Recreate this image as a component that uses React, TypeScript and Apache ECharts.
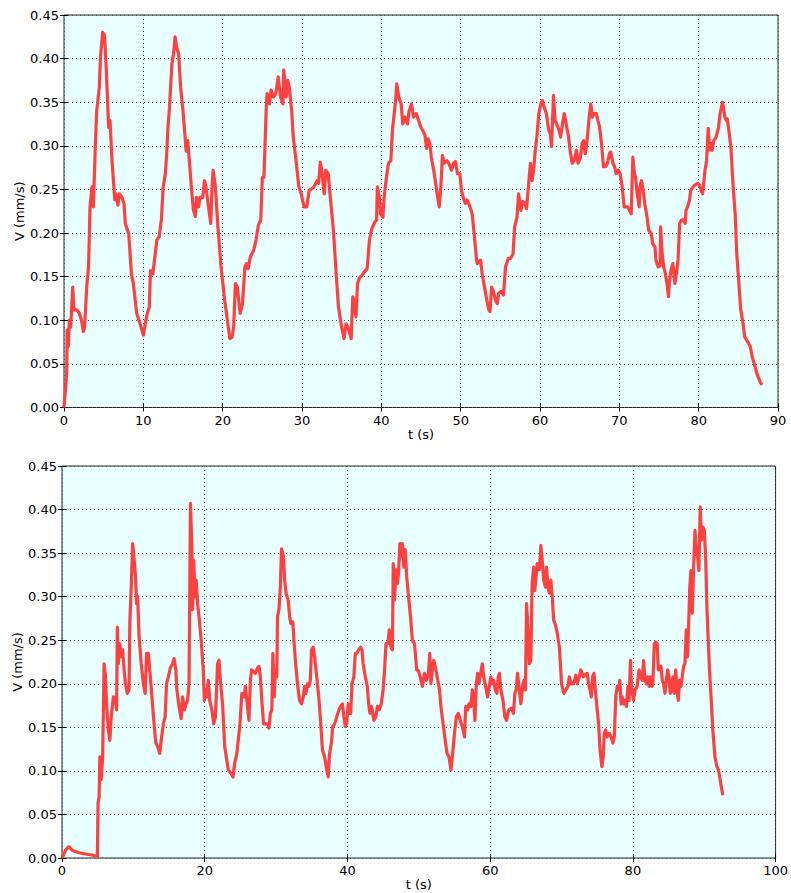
import React, { useEffect, useRef } from "react";
import * as echarts from "echarts";

const topT = [0, 0.34, 0.4, 0.55, 0.67, 0.84, 1.1, 1.26, 1.6, 1.93, 2.2, 2.44, 2.6, 2.86, 3.1, 3.28, 3.53, 3.7, 3.95, 4.12, 4.45, 4.6, 4.87, 5.1, 5.3, 5.63, 5.8, 6.05, 6.4, 6.55, 6.8, 7.0, 7.3, 7.56, 7.73, 8.0, 8.15, 8.5, 8.74, 9.16, 9.58, 10.0, 10.25, 10.5, 10.75, 10.9, 11.2, 11.5, 11.7, 12.0, 12.27, 12.5, 12.77, 12.94, 13.1, 13.3, 13.6, 13.8, 14.0, 14.2, 14.45, 14.7, 15.04, 15.4, 15.6, 15.8, 16.05, 16.3, 16.55, 16.7, 16.97, 17.14, 17.5, 17.7, 17.9, 18.15, 18.5, 18.66, 18.8, 19.08, 19.4, 19.8, 20.25, 20.6, 20.9, 21.2, 21.4, 21.6, 21.85, 22.2, 22.5, 22.8, 23.0, 23.2, 23.5, 23.9, 24.2, 24.5, 24.8, 25.0, 25.2, 25.5, 25.6, 25.9, 26.1, 26.4, 26.7, 27.0, 27.3, 27.6, 27.7, 28.0, 28.2, 28.4, 28.7, 28.9, 29.25, 29.6, 29.9, 30.26, 30.6, 30.9, 31.27, 31.5, 31.9, 32.1, 32.3, 32.5, 32.8, 33.0, 33.3, 33.6, 33.96, 34.3, 34.6, 35.0, 35.3, 35.55, 35.8, 36.2, 36.4, 36.6, 36.8, 37.0, 37.2, 37.6, 37.8, 38.2, 38.3, 38.5, 38.8, 39.2, 39.4, 39.5, 39.8, 39.9, 40.2, 40.35, 40.7, 40.9, 41.2, 41.4, 41.8, 41.95, 42.2, 42.5, 42.7, 43.0, 43.3, 43.5, 43.8, 44.05, 44.4, 44.7, 45.0, 45.2, 45.5, 45.7, 45.9, 46.1, 46.3, 46.6, 46.8, 47.1, 47.3, 47.5, 47.7, 47.9, 48.25, 48.5, 48.84, 49.1, 49.35, 49.6, 49.9, 50.1, 50.4, 50.6, 50.8, 51.1, 51.45, 51.7, 52.0, 52.1, 52.5, 52.7, 53.0, 53.3, 53.55, 53.7, 53.9, 54.1, 54.4, 54.6, 54.8, 55.1, 55.4, 55.65, 56.0, 56.3, 56.6, 56.8, 57.1, 57.3, 57.6, 57.8, 58.1, 58.3, 58.6, 58.8, 59.0, 59.2, 59.4, 59.6, 59.85, 60.1, 60.3, 60.5, 60.8, 61.1, 61.3, 61.45, 61.7, 61.9, 62.1, 62.4, 62.6, 62.9, 63.05, 63.3, 63.6, 63.8, 64.05, 64.3, 64.6, 64.8, 65.1, 65.3, 65.5, 65.7, 65.9, 66.2, 66.4, 66.6, 66.8, 67.1, 67.3, 67.5, 67.75, 68.0, 68.25, 68.5, 68.76, 68.9, 69.2, 69.4, 69.6, 69.85, 70.1, 70.36, 70.6, 70.8, 71.03, 71.3, 71.5, 71.7, 71.9, 72.04, 72.2, 72.5, 72.6, 72.8, 73.0, 73.2, 73.5, 73.7, 74.0, 74.2, 74.5, 74.6, 74.9, 75.15, 75.2, 75.4, 75.6, 75.8, 76.0, 76.2, 76.3, 76.5, 76.75, 77.0, 77.25, 77.4, 77.6, 77.85, 78.1, 78.3, 78.4, 78.6, 78.85, 79.0, 79.3, 79.5, 79.9, 80.1, 80.3, 80.5, 80.8, 81.0, 81.2, 81.4, 81.5, 81.7, 81.9, 82.2, 82.5, 82.7, 83.0, 83.1, 83.3, 83.5, 83.6, 83.8, 84.06, 84.3, 84.6, 84.8, 85.1, 85.3, 85.6, 85.8, 86.2, 86.5, 86.75, 87.1, 87.4, 87.76, 88.0];
const topV = [0, 0.039, 0.089, 0.07, 0.1, 0.092, 0.138, 0.112, 0.112, 0.108, 0.1, 0.087, 0.092, 0.138, 0.163, 0.23, 0.253, 0.23, 0.3, 0.34, 0.367, 0.402, 0.43, 0.427, 0.394, 0.321, 0.329, 0.283, 0.238, 0.245, 0.232, 0.245, 0.241, 0.234, 0.211, 0.203, 0.2, 0.153, 0.142, 0.108, 0.096, 0.083, 0.096, 0.108, 0.115, 0.157, 0.153, 0.176, 0.192, 0.196, 0.215, 0.253, 0.268, 0.29, 0.321, 0.344, 0.394, 0.405, 0.425, 0.413, 0.405, 0.367, 0.336, 0.294, 0.306, 0.283, 0.253, 0.227, 0.219, 0.241, 0.23, 0.241, 0.241, 0.26, 0.253, 0.234, 0.211, 0.253, 0.272, 0.253, 0.207, 0.161, 0.123, 0.1, 0.079, 0.081, 0.094, 0.142, 0.138, 0.108, 0.119, 0.161, 0.165, 0.159, 0.173, 0.18, 0.192, 0.209, 0.215, 0.264, 0.264, 0.345, 0.36, 0.348, 0.364, 0.356, 0.36, 0.379, 0.356, 0.348, 0.387, 0.356, 0.375, 0.367, 0.34, 0.31, 0.283, 0.253, 0.245, 0.23, 0.23, 0.249, 0.251, 0.253, 0.26, 0.257, 0.281, 0.272, 0.245, 0.272, 0.268, 0.238, 0.203, 0.154, 0.115, 0.092, 0.079, 0.096, 0.092, 0.079, 0.127, 0.119, 0.104, 0.142, 0.148, 0.152, 0.155, 0.159, 0.169, 0.192, 0.205, 0.213, 0.215, 0.253, 0.238, 0.222, 0.218, 0.241, 0.268, 0.28, 0.283, 0.318, 0.352, 0.371, 0.356, 0.348, 0.325, 0.333, 0.325, 0.34, 0.348, 0.333, 0.337, 0.329, 0.321, 0.318, 0.312, 0.297, 0.308, 0.303, 0.287, 0.272, 0.26, 0.241, 0.23, 0.253, 0.289, 0.28, 0.283, 0.28, 0.272, 0.28, 0.282, 0.268, 0.268, 0.249, 0.238, 0.234, 0.238, 0.232, 0.222, 0.199, 0.169, 0.165, 0.169, 0.154, 0.138, 0.123, 0.112, 0.11, 0.138, 0.134, 0.123, 0.119, 0.131, 0.133, 0.129, 0.161, 0.171, 0.171, 0.176, 0.207, 0.218, 0.245, 0.226, 0.236, 0.234, 0.228, 0.26, 0.28, 0.26, 0.272, 0.295, 0.31, 0.337, 0.348, 0.352, 0.345, 0.337, 0.318, 0.314, 0.299, 0.358, 0.329, 0.325, 0.318, 0.31, 0.329, 0.337, 0.325, 0.31, 0.295, 0.28, 0.283, 0.295, 0.28, 0.287, 0.303, 0.306, 0.291, 0.303, 0.333, 0.348, 0.333, 0.337, 0.337, 0.329, 0.322, 0.303, 0.276, 0.276, 0.28, 0.291, 0.293, 0.28, 0.276, 0.268, 0.272, 0.268, 0.253, 0.23, 0.23, 0.23, 0.226, 0.222, 0.287, 0.268, 0.264, 0.249, 0.23, 0.253, 0.26, 0.249, 0.234, 0.218, 0.203, 0.2, 0.188, 0.184, 0.169, 0.161, 0.163, 0.207, 0.176, 0.161, 0.154, 0.142, 0.127, 0.142, 0.157, 0.165, 0.142, 0.157, 0.169, 0.211, 0.215, 0.215, 0.211, 0.226, 0.23, 0.238, 0.249, 0.253, 0.255, 0.257, 0.255, 0.249, 0.245, 0.272, 0.283, 0.32, 0.295, 0.303, 0.295, 0.306, 0.31, 0.321, 0.337, 0.35, 0.345, 0.333, 0.329, 0.331, 0.318, 0.299, 0.26, 0.222, 0.176, 0.138, 0.112, 0.096, 0.081, 0.075, 0.07, 0.058, 0.047, 0.037, 0.029, 0.026];

const bottomT = [0, 0.5, 0.95, 1.4, 2.35, 3.3, 4.2, 4.96, 5.05, 5.2, 5.3, 5.5, 5.7, 5.9, 6.1, 6.26, 6.5, 6.7, 6.9, 7.2, 7.5, 7.65, 7.75, 7.9, 8.1, 8.3, 8.5, 8.7, 8.9, 9.15, 9.4, 9.5, 9.7, 9.9, 10.08, 10.3, 10.45, 10.6, 10.8, 11.1, 11.4, 11.66, 11.85, 12.1, 12.3, 12.6, 12.9, 13.15, 13.4, 13.7, 13.9, 14.2, 14.45, 14.65, 14.9, 15.2, 15.5, 15.7, 15.95, 16.1, 16.4, 16.7, 16.9, 17.15, 17.4, 17.6, 17.8, 18.0, 18.2, 18.3, 18.45, 18.65, 18.8, 19.0, 19.2, 19.5, 19.8, 19.95, 20.14, 20.3, 20.5, 20.7, 21.0, 21.26, 21.5, 21.8, 22.0, 22.2, 22.5, 22.8, 23.3, 23.7, 23.96, 24.2, 24.5, 24.8, 24.94, 25.2, 25.55, 25.7, 25.9, 26.2, 26.4, 26.57, 26.85, 27.1, 27.4, 27.6, 27.8, 28.0, 28.25, 28.5, 28.8, 29.0, 29.2, 29.4, 29.55, 29.74, 29.9, 30.1, 30.2, 30.4, 30.6, 30.76, 31.04, 31.2, 31.4, 31.7, 31.9, 32.07, 32.35, 32.5, 32.7, 33.0, 33.28, 33.56, 33.8, 34.0, 34.2, 34.4, 34.6, 34.8, 34.96, 35.2, 35.4, 35.7, 35.98, 36.26, 36.5, 36.8, 37.1, 37.3, 37.5, 37.75, 37.94, 38.2, 38.5, 38.8, 39.05, 39.3, 39.5, 39.7, 39.9, 40.1, 40.3, 40.45, 40.64, 40.9, 41.1, 41.3, 41.57, 41.85, 42.04, 42.2, 42.5, 42.78, 42.97, 43.15, 43.4, 43.7, 43.98, 44.2, 44.46, 44.74, 45.0, 45.2, 45.4, 45.67, 45.86, 46.1, 46.3, 46.42, 46.6, 46.8, 47.0, 47.16, 47.35, 47.5, 47.7, 47.9, 48.1, 48.3, 48.56, 48.84, 49.1, 49.4, 49.7, 49.95, 50.2, 50.5, 50.8, 51.07, 51.35, 51.54, 51.7, 51.9, 52.1, 52.4, 52.66, 52.9, 53.1, 53.4, 53.7, 53.96, 54.24, 54.5, 54.7, 55.0, 55.26, 55.54, 55.8, 56.1, 56.4, 56.57, 56.85, 57.03, 57.3, 57.5, 57.7, 57.87, 58.06, 58.24, 58.43, 58.6, 58.9, 59.1, 59.36, 59.64, 59.8, 60.1, 60.3, 60.5, 60.7, 60.95, 61.13, 61.3, 61.5, 61.8, 62.06, 62.3, 62.6, 63.0, 63.27, 63.46, 63.65, 63.83, 64.0, 64.3, 64.6, 64.76, 64.95, 65.1, 65.3, 65.5, 65.7, 65.88, 66.1, 66.25, 66.44, 66.6, 66.9, 67.1, 67.3, 67.5, 67.75, 67.9, 68.1, 68.3, 68.5, 68.7, 68.9, 69.1, 69.4, 69.7, 70.0, 70.2, 70.35, 70.6, 70.9, 71.1, 71.3, 71.6, 71.85, 72.0, 72.2, 72.5, 72.7, 72.87, 73.05, 73.3, 73.6, 73.8, 74.0, 74.17, 74.36, 74.55, 74.74, 75.0, 75.2, 75.4, 75.65, 75.84, 76.0, 76.2, 76.4, 76.7, 76.96, 77.2, 77.4, 77.6, 77.8, 78.0, 78.17, 78.35, 78.5, 78.7, 78.9, 79.1, 79.3, 79.47, 79.66, 79.84, 80.1, 80.3, 80.6, 80.87, 81.05, 81.33, 81.5, 81.7, 81.9, 82.1, 82.27, 82.45, 82.64, 82.8, 83.0, 83.2, 83.4, 83.57, 83.76, 83.94, 84.13, 84.3, 84.5, 84.7, 84.87, 85.06, 85.25, 85.43, 85.6, 85.8, 86.0, 86.18, 86.36, 86.55, 86.74, 86.92, 87.1, 87.3, 87.48, 87.67, 87.85, 87.95, 88.13, 88.32, 88.5, 88.7, 88.9, 89.07, 89.25, 89.44, 89.6, 89.8, 90.0, 90.2, 90.37, 90.56, 90.74, 90.93, 91.2, 91.5, 91.77, 92.0, 92.3, 92.6];
const bottomV = [0, 0.009, 0.013, 0.009, 0.006, 0.0046, 0.0034, 0.0015, 0.063, 0.07, 0.116, 0.09, 0.116, 0.223, 0.208, 0.174, 0.147, 0.135, 0.162, 0.185, 0.181, 0.17, 0.265, 0.223, 0.246, 0.231, 0.239, 0.216, 0.2, 0.189, 0.193, 0.269, 0.311, 0.361, 0.346, 0.323, 0.292, 0.3, 0.254, 0.223, 0.2, 0.189, 0.235, 0.235, 0.216, 0.185, 0.154, 0.132, 0.128, 0.12, 0.135, 0.154, 0.162, 0.2, 0.208, 0.219, 0.223, 0.229, 0.216, 0.193, 0.174, 0.16, 0.185, 0.17, 0.177, 0.181, 0.2, 0.407, 0.357, 0.285, 0.342, 0.3, 0.319, 0.292, 0.277, 0.25, 0.216, 0.181, 0.193, 0.185, 0.204, 0.181, 0.17, 0.154, 0.162, 0.223, 0.227, 0.204, 0.177, 0.128, 0.101, 0.097, 0.093, 0.109, 0.12, 0.143, 0.154, 0.189, 0.185, 0.197, 0.181, 0.158, 0.204, 0.216, 0.214, 0.212, 0.218, 0.22, 0.208, 0.181, 0.154, 0.154, 0.154, 0.149, 0.166, 0.17, 0.235, 0.185, 0.216, 0.208, 0.277, 0.285, 0.311, 0.355, 0.346, 0.319, 0.304, 0.296, 0.277, 0.269, 0.271, 0.25, 0.227, 0.2, 0.181, 0.177, 0.185, 0.197, 0.189, 0.2, 0.197, 0.204, 0.239, 0.242, 0.231, 0.208, 0.185, 0.154, 0.124, 0.116, 0.101, 0.093, 0.12, 0.132, 0.151, 0.154, 0.162, 0.17, 0.174, 0.177, 0.162, 0.151, 0.154, 0.177, 0.166, 0.166, 0.2, 0.208, 0.235, 0.235, 0.239, 0.242, 0.239, 0.223, 0.208, 0.197, 0.177, 0.166, 0.174, 0.158, 0.162, 0.174, 0.17, 0.177, 0.193, 0.216, 0.246, 0.246, 0.262, 0.242, 0.239, 0.338, 0.296, 0.331, 0.315, 0.327, 0.361, 0.346, 0.361, 0.334, 0.354, 0.323, 0.3, 0.277, 0.25, 0.246, 0.216, 0.215, 0.208, 0.197, 0.212, 0.204, 0.212, 0.235, 0.2, 0.216, 0.227, 0.216, 0.204, 0.193, 0.174, 0.154, 0.135, 0.12, 0.116, 0.101, 0.116, 0.143, 0.162, 0.166, 0.158, 0.151, 0.139, 0.174, 0.17, 0.177, 0.174, 0.193, 0.181, 0.158, 0.2, 0.212, 0.2, 0.208, 0.223, 0.208, 0.197, 0.185, 0.193, 0.208, 0.2, 0.204, 0.193, 0.189, 0.208, 0.212, 0.193, 0.181, 0.162, 0.158, 0.17, 0.172, 0.166, 0.189, 0.193, 0.212, 0.2, 0.177, 0.2, 0.204, 0.193, 0.292, 0.262, 0.223, 0.227, 0.315, 0.334, 0.307, 0.323, 0.338, 0.331, 0.359, 0.342, 0.319, 0.311, 0.334, 0.311, 0.304, 0.319, 0.3, 0.273, 0.269, 0.258, 0.242, 0.2, 0.193, 0.189, 0.193, 0.197, 0.208, 0.2, 0.2, 0.204, 0.21, 0.2, 0.208, 0.216, 0.212, 0.208, 0.21, 0.212, 0.2, 0.193, 0.185, 0.208, 0.212, 0.193, 0.17, 0.154, 0.124, 0.105, 0.116, 0.143, 0.147, 0.139, 0.143, 0.139, 0.132, 0.139, 0.185, 0.197, 0.193, 0.204, 0.177, 0.185, 0.177, 0.181, 0.174, 0.197, 0.181, 0.227, 0.193, 0.181, 0.193, 0.197, 0.216, 0.208, 0.204, 0.227, 0.204, 0.2, 0.208, 0.197, 0.208, 0.197, 0.2, 0.246, 0.248, 0.246, 0.216, 0.22, 0.22, 0.204, 0.2, 0.189, 0.204, 0.216, 0.208, 0.189, 0.193, 0.208, 0.189, 0.216, 0.193, 0.181, 0.204, 0.197, 0.208, 0.22, 0.223, 0.262, 0.231, 0.277, 0.307, 0.33, 0.281, 0.33, 0.376, 0.353, 0.346, 0.33, 0.403, 0.365, 0.38, 0.376, 0.346, 0.289, 0.25, 0.216, 0.189, 0.147, 0.116, 0.105, 0.101, 0.086, 0.072];

const topXMax = 90;
const topXInterval = 10;
const bottomXMax = 100;
const bottomXInterval = 20;
const yMax = 0.45;
const yInterval = 0.05;
const xName = "t (s)";
const yName = "V (mm/s)";

const FONT = "DejaVu Sans";
const LINE_COLOR = "#ff4040";
const BG = "#e8ffff";

export default function App() {
  const ref = useRef<HTMLDivElement>(null);
  useEffect(() => {
    document.body.style.margin = "0";
    const chart = echarts.init(ref.current!, null, { renderer: "svg" });
    const textStyle = { color: "#000", fontSize: 13, fontFamily: FONT };
    const split = { show: true, lineStyle: { color: "#4a5a6a", type: [1, 3] as any, width: 1 } };
    const tick = { show: true, inside: true, length: 4, lineStyle: { color: "#000", width: 1 } };
    const mainX = (gridIndex: number, max: number, interval: number) => ({
      type: "value" as const,
      gridIndex,
      min: 0,
      max,
      interval,
      axisLine: { show: false },
      axisTick: tick,
      axisLabel: { ...textStyle, margin: 6 },
      splitLine: split,
      name: xName,
      nameLocation: "middle" as const,
      nameGap: 20,
      nameMoveOverlap: false,
      nameTextStyle: textStyle,
    });
    const mirrorX = (gridIndex: number, max: number, interval: number) => ({
      type: "value" as const,
      gridIndex,
      position: "top" as const,
      min: 0,
      max,
      interval,
      axisLine: { show: false },
      axisTick: tick,
      axisLabel: { show: false },
      splitLine: { show: false },
    });
    const mainY = (gridIndex: number) => ({
      type: "value" as const,
      gridIndex,
      min: 0,
      max: yMax,
      interval: yInterval,
      axisLine: { show: false },
      axisTick: tick,
      axisLabel: { ...textStyle, margin: 5, formatter: (v: number) => v.toFixed(2) },
      splitLine: split,
      name: yName,
      nameLocation: "middle" as const,
      nameGap: 38,
      nameMoveOverlap: false,
      nameTextStyle: textStyle,
    });
    const mirrorY = (gridIndex: number) => ({
      type: "value" as const,
      gridIndex,
      position: "right" as const,
      min: 0,
      max: yMax,
      interval: yInterval,
      axisLine: { show: false },
      axisTick: tick,
      axisLabel: { show: false },
      splitLine: { show: false },
    });
    const gridBase = {
      show: true,
      backgroundColor: BG,
      borderColor: "#222",
      borderWidth: 1,
      containLabel: false,
    };
    chart.setOption({
      animation: false,
      backgroundColor: "#fff",
      grid: [
        { ...gridBase, left: 64, top: 15, width: 714, height: 392.5 },
        { ...gridBase, left: 62, top: 466, width: 715, height: 392 },
      ],
      xAxis: [
        mainX(0, topXMax, topXInterval),
        mainX(1, bottomXMax, bottomXInterval),
        mirrorX(0, topXMax, topXInterval),
        mirrorX(1, bottomXMax, bottomXInterval),
      ],
      yAxis: [mainY(0), mainY(1), mirrorY(0), mirrorY(1)],
      series: [
        {
          type: "line",
          xAxisIndex: 0,
          yAxisIndex: 0,
          data: topT.map((t, i) => [t, topV[i]]),
          showSymbol: false,
          lineStyle: { color: LINE_COLOR, width: 3.2, join: "round" },
          itemStyle: { color: LINE_COLOR },
        },
        {
          type: "line",
          xAxisIndex: 1,
          yAxisIndex: 1,
          data: bottomT.map((t, i) => [t, bottomV[i]]),
          showSymbol: false,
          lineStyle: { color: LINE_COLOR, width: 3.2, join: "round" },
          itemStyle: { color: LINE_COLOR },
        },
      ],
    });
    return () => chart.dispose();
  }, []);
  return <div ref={ref} style={{ width: 791, height: 893 }} />;
}
